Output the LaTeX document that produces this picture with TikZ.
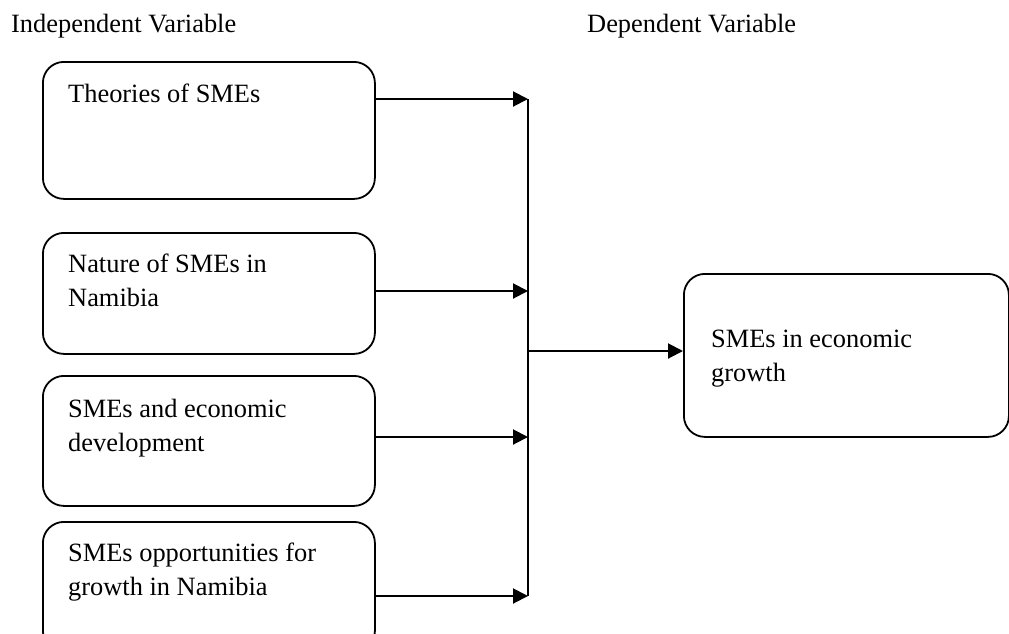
\documentclass[tikz,border=0pt]{standalone}
\usepackage{fontspec}
\setmainfont{Liberation Serif}
\usetikzlibrary{positioning,arrows.meta}
\newcommand{\boxlines}[1]{\parbox[t]{300pt}{\raggedright #1}}
\tikzset{
	varbox/.style={draw=black,line width=1.8pt,rounded corners=21pt,anchor=north west,inner sep=0pt},
	boxtext/.style={anchor=base west,inner sep=0pt,font=\fontsize{26.4}{34}\selectfont},
	head/.style={anchor=base west,inner sep=0pt,font=\fontsize{26.4}{34}\selectfont},
	feed/.style={draw=black,line width=2pt,-{Triangle[length=15pt,width=15pt]}},
	bus/.style={draw=black,line width=1.6pt},
}

\begin{document}
\begin{tikzpicture}[x=1pt,y=-1pt]
			\useasboundingbox (0,0) rectangle (1009,633);
			\node[head] (indep) at (11,32) {Independent Variable};
			\node[head] (dep) at (587,32) {Dependent Variable};
			\node[varbox,minimum width=332pt,minimum height=137pt] (theory) at (42,61) {};
			\node[varbox,minimum width=332pt,minimum height=121pt] (nature) at (42,232) {};
			\node[varbox,minimum width=332pt,minimum height=130pt] (devel) at (42,375) {};
			\node[varbox,minimum width=332pt,minimum height=130pt] (opport) at (42,521) {};
			\node[varbox,minimum width=325pt,minimum height=163pt] (growth) at (683,273) {};
			\node[boxtext] (theoryT) at (68,102) {\boxlines{Theories of SMEs}};
			\node[boxtext] (natureT) at (68,272) {\boxlines{Nature of SMEs in\\Namibia}};
			\node[boxtext] (develT) at (68,417) {\boxlines{SMEs and economic\\development}};
			\node[boxtext] (opportT) at (68,561) {\boxlines{SMEs opportunities for\\growth in Namibia}};
			\node[boxtext] (growthT) at (711,347) {\boxlines{SMEs in economic\\growth}};
			\coordinate (j1) at (528,99);
			\coordinate (j2) at (528,291);
			\coordinate (j3) at (528,437);
			\coordinate (j4) at (528,596);
			\coordinate (jout) at (528,351);
			\draw[bus] (j1) -- (j4);
			\draw[feed] (theory.east |- j1) -- (j1);
			\draw[feed] (nature.east |- j2) -- (j2);
			\draw[feed] (devel.east |- j3) -- (j3);
			\draw[feed] (opport.east |- j4) -- (j4);
			\draw[feed] (jout) -- (growth.west |- jout);
		\end{tikzpicture}
\end{document}
